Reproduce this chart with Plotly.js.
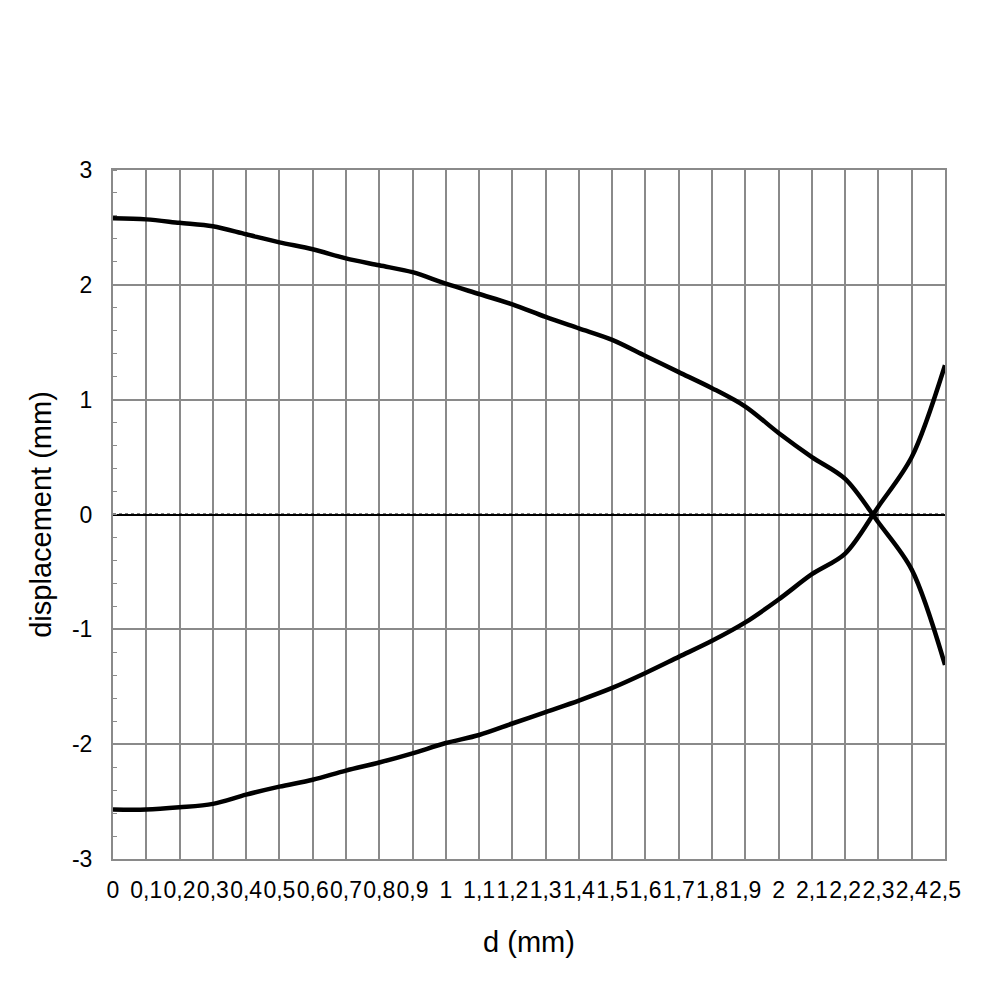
<!DOCTYPE html>
<html><head><meta charset="utf-8">
<script src="https://cdn.plot.ly/plotly-3.0.1.min.js"></script>
<style>html,body{margin:0;padding:0;background:#fff}#c{width:1000px;height:1000px}</style>
</head><body><div id="c"></div>
<script>
const d = [0,0.1,0.2,0.3,0.4,0.5,0.6,0.7,0.8,0.9,1.0,1.1,1.2,1.3,1.4,1.5,1.6,1.7,1.8,1.9,2.0,2.1,2.2,2.3,2.4,2.5];
const tickLabels = ["0","0,1","0,2","0,3","0,4","0,5","0,6","0,7","0,8","0,9","1","1,1","1,2","1,3","1,4","1,5","1,6","1,7","1,8","1,9","2","2,1","2,2","2,3","2,4","2,5"];
const yTickVals = [-3,-2,-1,0,1,2,3];
const yTickLabels = ["-3","-2","-1","0","1","2","3"];
const upper = [2.58,2.57,2.54,2.51,2.44,2.37,2.31,2.23,2.17,2.11,2.01,1.92,1.83,1.72,1.62,1.52,1.38,1.24,1.10,0.94,0.71,0.50,0.31,-0.07,-0.48,-1.31];
const lower = [-2.57,-2.57,-2.55,-2.52,-2.44,-2.37,-2.31,-2.23,-2.16,-2.08,-1.99,-1.92,-1.82,-1.72,-1.62,-1.51,-1.38,-1.24,-1.10,-0.94,-0.74,-0.52,-0.34,0.07,0.50,1.30];
const zeroRef = d.map(()=>0);

const grid = '#8a8a8a';
const traces = [
  {x:d, y:zeroRef, mode:'lines', line:{color:'#000', width:2, dash:'dot'}, hoverinfo:'skip'},
  {x:d, y:upper, mode:'lines', line:{color:'#000', width:4.5, shape:'spline', smoothing:0.9}},
  {x:d, y:lower, mode:'lines', line:{color:'#000', width:4.5, shape:'spline', smoothing:0.9}}
];
const layout = {
  width:1000, height:1000,
  margin:{l:113, r:55, t:170, b:141},
  paper_bgcolor:'#fff', plot_bgcolor:'#fff',
  showlegend:false,
  font:{family:'"Liberation Sans", Arial, sans-serif', color:'#000', size:23},
  xaxis:{
    range:[0,2.5], tickmode:'array', tickvals:d, ticktext:tickLabels,
    showgrid:true, gridcolor:grid, gridwidth:2,
    showline:true, linecolor:grid, linewidth:2, mirror:true,
    ticks:'', tickangle:0, zeroline:false,
    ticklabelstandoff:9,
    tickfont:{size:23},
    title:{text:'d (mm)', font:{size:29}, standoff:30}
  },
  yaxis:{
    range:[-3,3], tickmode:'array', tickvals:yTickVals, ticktext:yTickLabels,
    showgrid:true, gridcolor:grid, gridwidth:2,
    showline:true, linecolor:grid, linewidth:2, mirror:true,
    ticks:'', zeroline:true, zerolinecolor:'#000', zerolinewidth:2,
    ticklabelstandoff:14,
    tickfont:{size:23},
    minor:{dtick:0.2, ticks:'inside', ticklen:4, tickcolor:grid, tickwidth:1, showgrid:false},
    title:{text:'displacement (mm)', font:{size:29}, standoff:12}
  }
};
Plotly.newPlot('c', traces, layout, {displayModeBar:false, staticPlot:true});
</script></body></html>
